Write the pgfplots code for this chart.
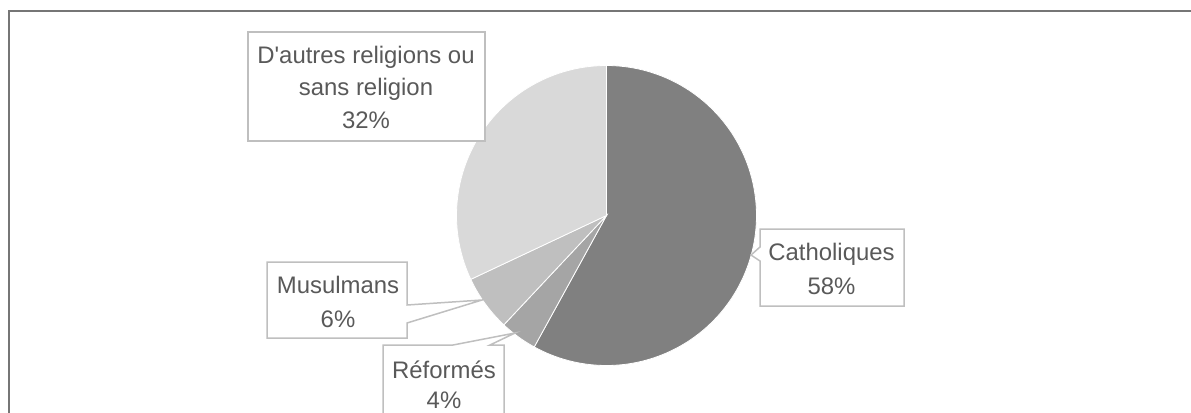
\documentclass[border=0pt]{standalone}
\usepackage{pgfplots}
\pgfplotsset{compat=1.18}
\usepackage{pgfplotstable}
\usepackage{fontspec}
\setmainfont{Liberation Sans}[Ligatures=TeXOff]
\definecolor{cCat}{HTML}{808080}
\definecolor{cRef}{HTML}{A5A5A5}
\definecolor{cMus}{HTML}{BFBFBF}
\definecolor{cAut}{HTML}{D9D9D9}
\definecolor{txt}{HTML}{595959}
\definecolor{boxc}{HTML}{BFBFBF}
\definecolor{framec}{HTML}{767676}

\pgfplotstableread{
label value
Catholiques 58
Reformes 4
Musulmans 6
Autres 32
}\piedata

\begin{document}
\begin{tikzpicture}[x=1bp,y=1bp]
\pgfplotstablegetelem{0}{value}\of\piedata \pgfmathsetmacro\vA{\pgfplotsretval}%
\pgfplotstablegetelem{1}{value}\of\piedata \pgfmathsetmacro\vB{\pgfplotsretval}%
\pgfplotstablegetelem{2}{value}\of\piedata \pgfmathsetmacro\vC{\pgfplotsretval}%
\pgfplotstablegetelem{3}{value}\of\piedata \pgfmathsetmacro\vD{\pgfplotsretval}%
\pgfmathsetmacro\aZero{90}%
\pgfmathsetmacro\aOne{\aZero-3.6*\vA}%
\pgfmathsetmacro\aTwo{\aOne-3.6*\vB}%
\pgfmathsetmacro\aThree{\aTwo-3.6*\vC}%
\pgfmathsetmacro\aFour{\aThree-3.6*\vD}%
\useasboundingbox (0,0) rectangle (1191,412);
\begin{axis}[at={(0,0)}, anchor=south west, width=1191bp, height=412bp,
  scale only axis, xmin=0, xmax=1191, ymin=0, ymax=412, y dir=reverse,
  hide axis, clip=false]
% outer frame
\draw[framec, line width=2bp] (axis cs:9,11) rectangle (axis cs:1260,460);
% wedges
\addplot[fill=cCat, draw=white, line width=0.8bp, domain=\aOne:\aZero, samples=120, variable=\t]
  ({606.5+150*cos(\t)},{215.5-150*sin(\t)}) -- (axis cs:606.5,215.5) -- cycle;
\addplot[fill=cRef, draw=white, line width=0.8bp, domain=\aTwo:\aOne, samples=20, variable=\t]
  ({606.5+150*cos(\t)},{215.5-150*sin(\t)}) -- (axis cs:606.5,215.5) -- cycle;
\addplot[fill=cMus, draw=white, line width=0.8bp, domain=\aThree:\aTwo, samples=20, variable=\t]
  ({606.5+150*cos(\t)},{215.5-150*sin(\t)}) -- (axis cs:606.5,215.5) -- cycle;
\addplot[fill=cAut, draw=white, line width=0.8bp, domain=\aFour:\aThree, samples=80, variable=\t]
  ({606.5+150*cos(\t)},{215.5-150*sin(\t)}) -- (axis cs:606.5,215.5) -- cycle;
% callouts
\draw[boxc, line width=1.5bp, fill=white] (axis cs:248,32) rectangle (axis cs:485,141);
\draw[boxc, line width=1.5bp, fill=white] (axis cs:760,229) -- (axis cs:904,229) -- (axis cs:904,306)
  -- (axis cs:760,306) -- (axis cs:760,261) -- (axis cs:751,255) -- (axis cs:760,247) -- cycle;
\draw[boxc, line width=1.5bp, fill=white] (axis cs:267,262) -- (axis cs:407,262) -- (axis cs:407,305)
  -- (axis cs:482,300) -- (axis cs:407,323) -- (axis cs:407,338) -- (axis cs:267,338) -- cycle;
\draw[boxc, line width=1.5bp, fill=white] (axis cs:383,345) -- (axis cs:453,345) -- (axis cs:515,333)
  -- (axis cs:490,345) -- (axis cs:504,345) -- (axis cs:504,440) -- (axis cs:383,440) -- cycle;
% labels
\begin{scope}[every node/.style={text=txt, font=\fontsize{24}{30}\selectfont, anchor=base, inner sep=0pt}]
\node at (axis cs:366,63) {D'autres religions ou};
\node at (axis cs:366,95) {sans religion};
\node at (axis cs:366,128) {32\%};
\node at (axis cs:831.5,260) {Catholiques};
\node at (axis cs:831.5,294) {58\%};
\node at (axis cs:338,293) {Musulmans};
\node at (axis cs:338,327) {6\%};
\node at (axis cs:444,378) {Réformés};
\node at (axis cs:444,408) {4\%};
\end{scope}
\end{axis}
\end{tikzpicture}
\end{document}
